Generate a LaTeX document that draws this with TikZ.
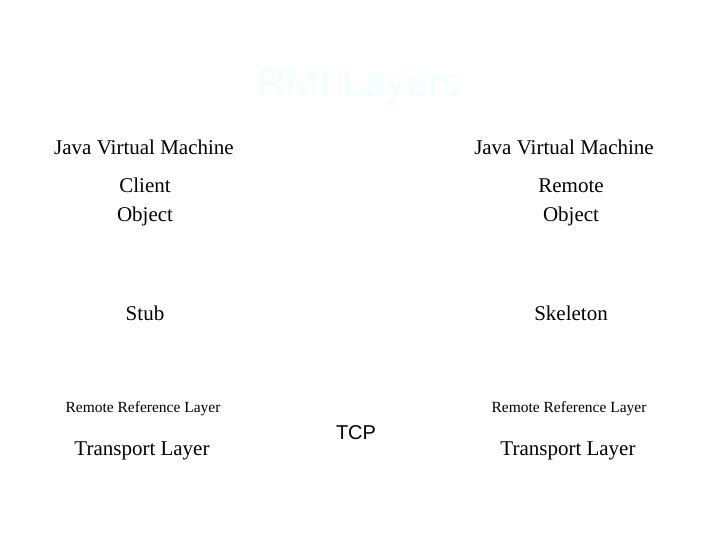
\documentclass[tikz,border=0pt]{standalone}
\usepackage{fontspec}
\setmainfont{Liberation Serif}
\newfontfamily\sansf{Liberation Sans}
\definecolor{titlec}{HTML}{F0FFFF}
\begin{document}
\begin{tikzpicture}[x=1pt,y=-1pt,
  lbl/.style={font=\fontsize{21}{25}\selectfont,align=center,text=black},
  sml/.style={font=\fontsize{15.5}{18}\selectfont,text=black}]
\useasboundingbox[fill=white] (0,0) rectangle (718,538);
\node[font=\sansf\fontsize{40}{44}\selectfont,text=titlec] (title) at (360,87) {RMI Layers};
\node[lbl] (jvm1) at (144,147) {Java Virtual Machine};
\node[lbl] (jvm2) at (564,147) {Java Virtual Machine};
\node[lbl,font=\fontsize{21}{29}\selectfont] (client) at (145,202) {Client\\Object};
\node[lbl,font=\fontsize{21}{29}\selectfont] (remote) at (571,202) {Remote\\Object};
\node[lbl] (stub) at (145,313) {Stub};
\node[lbl] (skel) at (571,313) {Skeleton};
\node[sml] (rrl1) at (143,409) {Remote Reference Layer};
\node[sml] (rrl2) at (569,409) {Remote Reference Layer};
\node[lbl] (tl1) at (142,451) {Transport Layer};
\node[lbl] (tl2) at (568,451) {Transport Layer};
\node[lbl,font=\sansf\fontsize{20}{24}\selectfont] (tcp) at (356,433) {TCP};
\end{tikzpicture}
\end{document}
